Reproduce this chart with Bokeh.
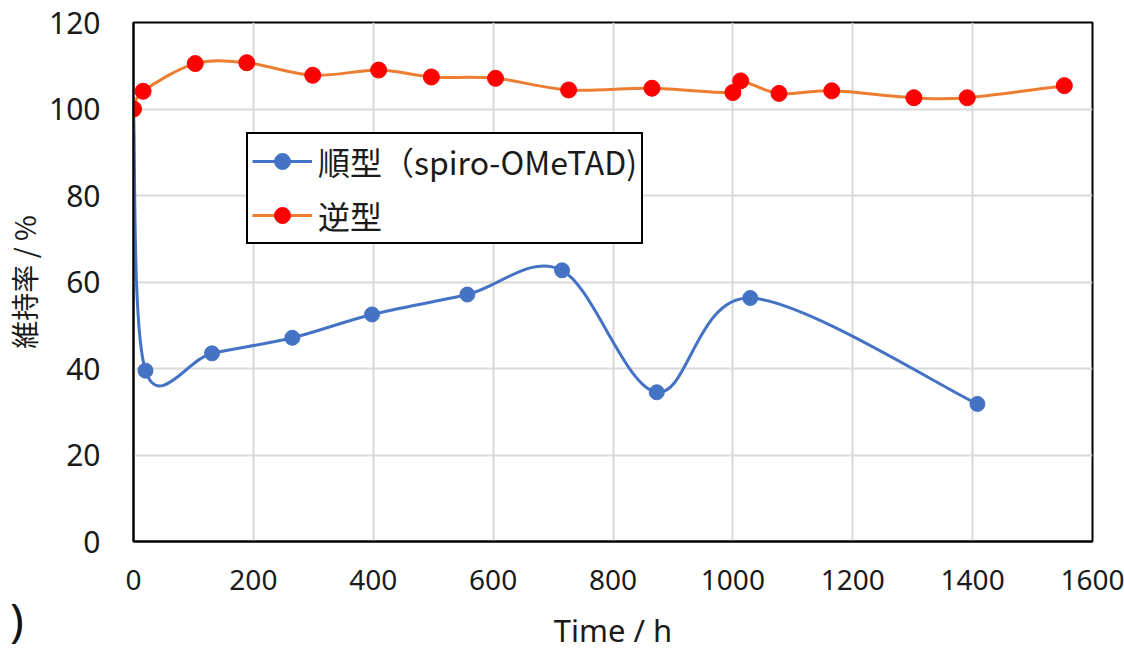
from bokeh.plotting import figure
from bokeh.models import ColumnDataSource, Legend, LegendItem, Label, Range1d, FixedTicker
from bokeh.embed import file_html
from bokeh.resources import INLINE

# ---- data ----
blue_t = [0, 20, 131, 265, 398, 557, 715, 873, 1029, 1408]
blue_v = [100, 39.5, 43.5, 47.1, 52.5, 57.1, 62.7, 34.5, 56.3, 31.8]
orange_t = [0, 16, 103, 189, 299, 409, 497, 604, 726, 865, 1000, 1013, 1077, 1165, 1302, 1391, 1553]
orange_v = [100, 104.1, 110.5, 110.7, 107.8, 109.0, 107.4, 107.1, 104.4, 104.8, 103.8, 106.5, 103.6, 104.2, 102.6, 102.6, 105.4]
x_ticks = [0, 200, 400, 600, 800, 1000, 1200, 1400, 1600]
y_ticks = [0, 20, 40, 60, 80, 100, 120]
name_blue = "順型（spiro-OMeTAD)"
name_orange = "逆型"
panel_tag = ")"  # visible remainder of the cropped panel tag

BLUE = "#4472C4"
ORANGE = "#ED7D31"
RED = "#FF0000"
NUM_FONT = "Noto Sans"
JP_FONT = "Noto Sans CJK JP"
NAN = float("nan")


def smooth_segments(xs, ys):
    """Catmull-Rom style bezier control points (Excel-like smoothing)."""
    n = len(xs)
    d = dict(x0=[], y0=[], x1=[], y1=[], cx0=[], cy0=[], cx1=[], cy1=[])
    for i in range(n - 1):
        ax, ay = (xs[i - 1], ys[i - 1]) if i > 0 else (xs[i], ys[i])
        bx, by = (xs[i + 2], ys[i + 2]) if i + 2 < n else (xs[i + 1], ys[i + 1])
        d["x0"].append(xs[i]); d["y0"].append(ys[i])
        d["x1"].append(xs[i + 1]); d["y1"].append(ys[i + 1])
        d["cx0"].append(xs[i] + (xs[i + 1] - ax) / 6.0)
        d["cy0"].append(ys[i] + (ys[i + 1] - ay) / 6.0)
        d["cx1"].append(xs[i + 1] - (bx - xs[i]) / 6.0)
        d["cy1"].append(ys[i + 1] - (by - ys[i]) / 6.0)
    return ColumnDataSource(d)


p = figure(width=1124, height=653, output_backend="svg", toolbar_location=None,
           x_range=Range1d(0, 1600), y_range=Range1d(0, 120),
           min_border_left=133, min_border_right=32, min_border_top=22, min_border_bottom=110)

p.background_fill_color = "white"
p.border_fill_color = "white"
p.outline_line_color = "black"
p.outline_line_width = 2
p.outline_line_alpha = 1

# grid
p.xgrid.ticker = FixedTicker(ticks=x_ticks)
p.ygrid.ticker = FixedTicker(ticks=y_ticks)
for g in (p.xgrid, p.ygrid):
    g.grid_line_color = "#D9D9D9"
    g.grid_line_width = 2

# axes
p.xaxis.ticker = FixedTicker(ticks=x_ticks)
p.yaxis.ticker = FixedTicker(ticks=y_ticks)
for ax in (p.xaxis, p.yaxis):
    ax.axis_line_color = "black"
    ax.axis_line_width = 2
    ax.major_tick_line_color = None
    ax.minor_tick_line_color = None
    ax.major_tick_out = 0
    ax.major_tick_in = 0
    ax.minor_tick_out = 0
    ax.minor_tick_in = 0
    ax.major_label_text_font = NUM_FONT
    ax.major_label_text_color = "#1a1a1a"
    ax.axis_label_text_font_style = "normal"
    ax.axis_label_text_color = "#1a1a1a"

p.xaxis.major_label_text_font_size = "28px"
p.yaxis.major_label_text_font_size = "30px"

p.xaxis.axis_label = "Time / h"
p.xaxis.axis_label_text_font = NUM_FONT
p.xaxis.axis_label_text_font_size = "31px"
p.xaxis.major_label_standoff = 28
p.xaxis.axis_label_standoff = 16

p.yaxis.axis_label = "維持率 / %"
p.yaxis.axis_label_text_font = JP_FONT
p.yaxis.axis_label_text_font_size = "28px"
p.yaxis.major_label_standoff = 33
p.yaxis.axis_label_standoff = 2

# series
p.bezier(x0="x0", y0="y0", x1="x1", y1="y1", cx0="cx0", cy0="cy0", cx1="cx1", cy1="cy1",
         source=smooth_segments(orange_t, orange_v), line_color=ORANGE, line_width=3)
p.bezier(x0="x0", y0="y0", x1="x1", y1="y1", cx0="cx0", cy0="cy0", cx1="cx1", cy1="cy1",
         source=smooth_segments(blue_t, blue_v), line_color=BLUE, line_width=3)

blue_pts = p.scatter(blue_t, blue_v, size=15, fill_color=BLUE, line_color=BLUE)
orange_pts = p.scatter(orange_t, orange_v, size=16, fill_color=RED, line_color=RED)

# legend proxies (single undefined point, nothing drawn in the plot)
blue_leg_line = p.line(x=[NAN], y=[NAN], line_color=BLUE, line_width=3)
orange_leg_line = p.line(x=[NAN], y=[NAN], line_color=ORANGE, line_width=3)

legend = Legend(items=[
    LegendItem(label=name_blue, renderers=[blue_leg_line, blue_pts]),
    LegendItem(label=name_orange, renderers=[orange_leg_line, orange_pts]),
], location=(113, 297))
legend.label_text_font = JP_FONT
legend.label_text_font_size = "32px"
legend.label_text_color = "#1a1a1a"
legend.glyph_width = 60
legend.glyph_height = 40
legend.label_height = 40
legend.label_standoff = 6
legend.spacing = 8
legend.padding = 4
legend.margin = 0
legend.border_line_color = "black"
legend.border_line_width = 2
legend.border_line_alpha = 1
legend.background_fill_color = "white"
legend.background_fill_alpha = 1
p.add_layout(legend, "center")

# cropped panel tag at bottom-left; kept in the narrow right side panel so it is
# neither clipped to the frame nor enlarging the bottom margin
tag = Label(x=-183, y=-18, text=panel_tag,
            text_align="right", text_baseline="alphabetic",
            text_font=NUM_FONT, text_font_size="46px", text_color="#111111")
p.add_layout(tag, "right")

open("out.html", "w").write(file_html(p, INLINE))
